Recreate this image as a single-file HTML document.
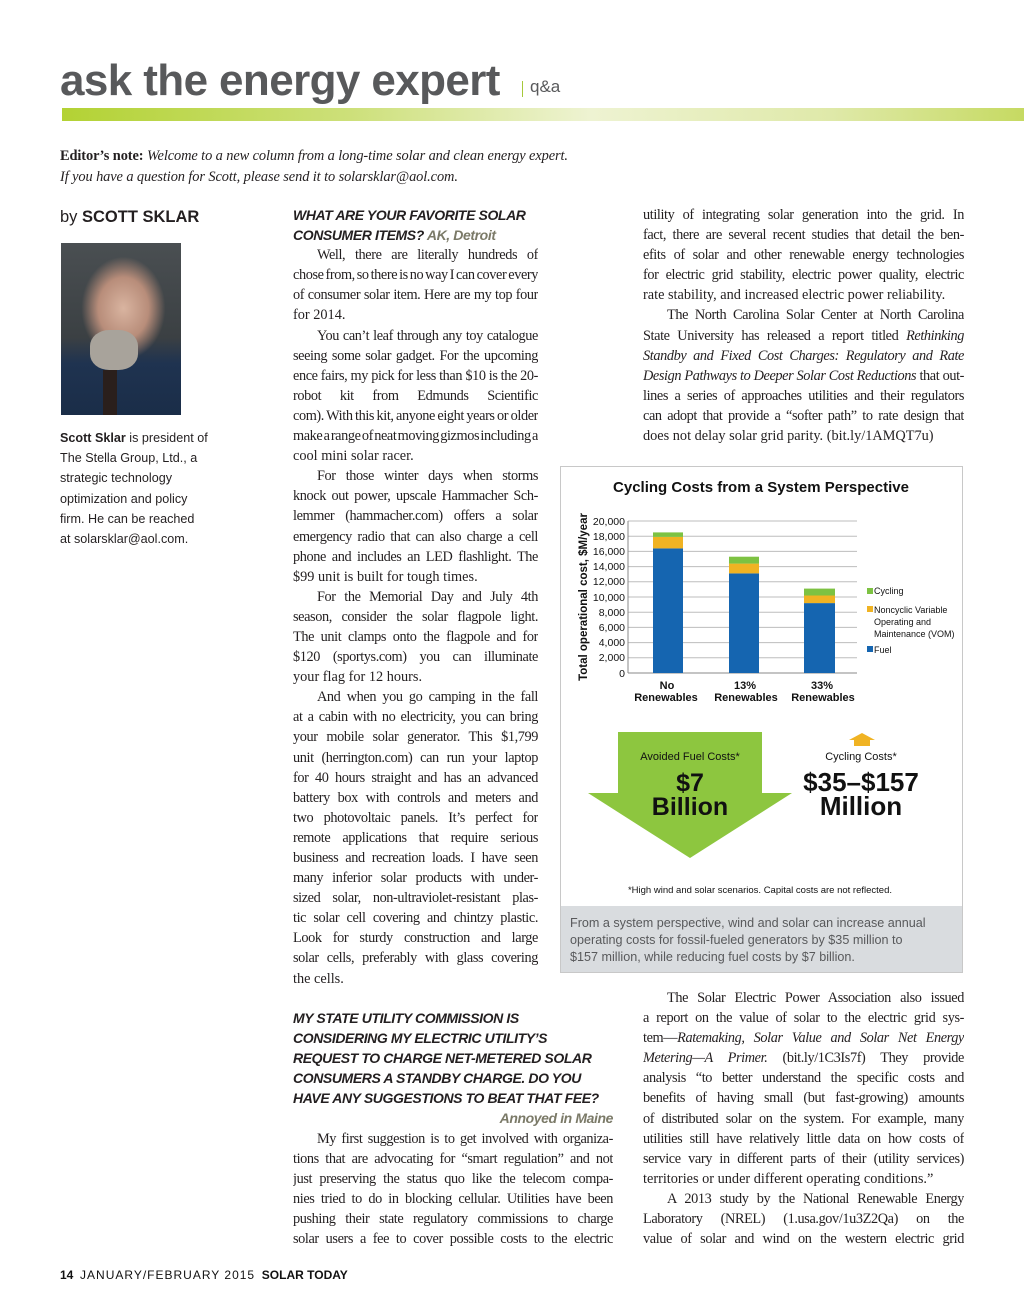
<!DOCTYPE html>
<html><head><meta charset="utf-8">
<style>
*{margin:0;padding:0;box-sizing:border-box}
body{width:1024px;height:1310px;background:#fff;position:relative;overflow:hidden;font-family:"Liberation Serif",serif;color:#231f20}
.a{position:absolute}
.col{position:absolute;font-size:14.3px;line-height:20.1px}
.col div{white-space:nowrap;overflow:hidden;height:20.1px}
.j{text-align:justify;text-align-last:justify;white-space:normal!important;word-spacing:-2px;letter-spacing:-0.4px}
.i{padding-left:24px}
.h{font-family:"Liberation Sans",sans-serif;font-weight:bold;font-style:italic;font-size:14px;color:#231f20;letter-spacing:-0.4px;overflow:visible!important}
.g{color:#7b7a68}
.cap{font-family:"Liberation Sans",sans-serif;font-size:12.6px;line-height:20.2px;color:#231f20}
.s{font-family:"Liberation Sans",sans-serif}
</style></head><body>

<div class="a s" style="left:60px;top:53px;font-size:44px;font-weight:bold;color:#58595b;letter-spacing:-0.6px;line-height:56px">ask the energy expert</div>
<div class="a" style="left:522px;top:81px;width:1px;height:16px;background:#a6c83a"></div>
<div class="a s" style="left:530px;top:77px;font-size:17px;color:#58595b">q&amp;a</div>
<div class="a" style="left:62px;top:108px;width:962px;height:13px;background:linear-gradient(90deg,#b3d234 0%,#cde07a 30%,#eef3d2 55%,#dfe9a9 80%,#c6da62 100%)"></div>

<div class="a" style="left:60px;top:146px;font-size:14.4px;line-height:20.5px;letter-spacing:-0.1px">
<b>Editor’s note:</b> <i>Welcome to a new column from a long-time solar and clean energy expert.</i><br>
<i>If you have a question for Scott, please send it to solarsklar@aol.com.</i></div>

<div class="a s" style="left:60px;top:208px;font-size:16.5px">by <b>SCOTT SKLAR</b></div>
<div class="a" style="left:61px;top:243px;width:120px;height:172px;background:radial-gradient(ellipse 35% 30% at 52% 38%,#d9b4a0 0%,#b88d7a 60%,transparent 100%),linear-gradient(180deg,#4a4f52 0%,#3b4043 55%,#1f3350 70%,#1a2d48 100%)"></div>
<div class="a" style="left:90px;top:330px;width:48px;height:40px;border-radius:40%;background:#a8a39b"></div>
<div class="a" style="left:103px;top:370px;width:14px;height:45px;background:#2a1f1c"></div>
<div class="a cap" style="left:60px;top:428px">
<div><b>Scott Sklar</b> is president of</div>
<div>The Stella Group, Ltd., a</div>
<div>strategic technology</div>
<div>optimization and policy</div>
<div>firm. He can be reached</div>
<div>at solarsklar@aol.com.</div></div>

<div class="col" style="left:293px;top:205px;width:245px">
<div class="h">WHAT ARE YOUR FAVORITE SOLAR</div>
<div class="h">CONSUMER ITEMS? <span class="g">AK, Detroit</span></div>
<div class="j i">Well, there are literally hundreds of products to</div>
<div class="j">chose from, so there is no way I can cover every class</div>
<div class="j">of consumer solar item. Here are my top four picks</div>
<div>for 2014.</div>
<div class="j i">You can’t leaf through any toy catalogue without</div>
<div class="j">seeing some solar gadget. For the upcoming spring sci-</div>
<div class="j">ence fairs, my pick for less than $10 is the 20-piece solar</div>
<div class="j">robot kit from Edmunds Scientific (scientificsonline.</div>
<div class="j">com). With this kit, anyone eight years or older can</div>
<div class="j">make a range of neat moving gizmos including a very</div>
<div>cool mini solar racer.</div>
<div class="j i">For those winter days when storms</div>
<div class="j">knock out power, upscale Hammacher Sch-</div>
<div class="j">lemmer (hammacher.com) offers a solar</div>
<div class="j">emergency radio that can also charge a cell</div>
<div class="j">phone and includes an LED flashlight. The</div>
<div>$99 unit is built for tough times.</div>
<div class="j i">For the Memorial Day and July 4th</div>
<div class="j">season, consider the solar flagpole light.</div>
<div class="j">The unit clamps onto the flagpole and for</div>
<div class="j">$120 (sportys.com) you can illuminate</div>
<div>your flag for 12 hours.</div>
<div class="j i">And when you go camping in the fall</div>
<div class="j">at a cabin with no electricity, you can bring</div>
<div class="j">your mobile solar generator. This $1,799</div>
<div class="j">unit (herrington.com) can run your laptop</div>
<div class="j">for 40 hours straight and has an advanced</div>
<div class="j">battery box with controls and meters and</div>
<div class="j">two photovoltaic panels. It’s perfect for</div>
<div class="j">remote applications that require serious</div>
<div class="j">business and recreation loads. I have seen</div>
<div class="j">many inferior solar products with under-</div>
<div class="j">sized solar, non-ultraviolet-resistant plas-</div>
<div class="j">tic solar cell covering and chintzy plastic.</div>
<div class="j">Look for sturdy construction and large</div>
<div class="j">solar cells, preferably with glass covering</div>
<div>the cells.</div>
</div>

<div class="col" style="left:293px;top:1008px;width:320px">
<div class="h">MY STATE UTILITY COMMISSION IS</div>
<div class="h">CONSIDERING MY ELECTRIC UTILITY’S</div>
<div class="h">REQUEST TO CHARGE NET-METERED SOLAR</div>
<div class="h">CONSUMERS A STANDBY CHARGE. DO YOU</div>
<div class="h">HAVE ANY SUGGESTIONS TO BEAT THAT FEE?</div>
<div class="h g" style="text-align:right">Annoyed in Maine</div>
<div class="j i">My first suggestion is to get involved with organiza-</div>
<div class="j">tions that are advocating for “smart regulation” and not</div>
<div class="j">just preserving the status quo like the telecom compa-</div>
<div class="j">nies tried to do in blocking cellular. Utilities have been</div>
<div class="j">pushing their state regulatory commissions to charge</div>
<div class="j">solar users a fee to cover possible costs to the electric</div>
</div>

<div class="col" style="left:643px;top:205px;width:321px">
<div class="j">utility of integrating solar generation into the grid. In</div>
<div class="j">fact, there are several recent studies that detail the ben-</div>
<div class="j">efits of solar and other renewable energy technologies</div>
<div class="j">for electric grid stability, electric power quality, electric</div>
<div>rate stability, and increased electric power reliability.</div>
<div class="j i">The North Carolina Solar Center at North Carolina</div>
<div class="j">State University has released a report titled <i>Rethinking</i></div>
<div class="j"><i>Standby and Fixed Cost Charges: Regulatory and Rate</i></div>
<div class="j"><i>Design Pathways to Deeper Solar Cost Reductions</i> that out-</div>
<div class="j">lines a series of approaches utilities and their regulators</div>
<div class="j">can adopt that provide a “softer path” to rate design that</div>
<div>does not delay solar grid parity. (bit.ly/1AMQT7u)</div>
</div>

<div class="col" style="left:643px;top:988px;width:321px">
<div class="j i">The Solar Electric Power Association also issued</div>
<div class="j">a report on the value of solar to the electric grid sys-</div>
<div class="j">tem—<i>Ratemaking, Solar Value and Solar Net Energy</i></div>
<div class="j"><i>Metering—A Primer.</i> (bit.ly/1C3Is7f) They provide</div>
<div class="j">analysis “to better understand the specific costs and</div>
<div class="j">benefits of having small (but fast-growing) amounts</div>
<div class="j">of distributed solar on the system. For example, many</div>
<div class="j">utilities still have relatively little data on how costs of</div>
<div class="j">service vary in different parts of their (utility services)</div>
<div>territories or under different operating conditions.”</div>
<div class="j i">A 2013 study by the National Renewable Energy</div>
<div class="j">Laboratory (NREL) (1.usa.gov/1u3Z2Qa) on the</div>
<div class="j">value of solar and wind on the western electric grid</div>
</div>

<!-- chart box -->
<div class="a" style="left:560px;top:466px;width:403px;height:507px;border:1px solid #c8c8c8"></div>
<div class="a" style="left:561px;top:906px;width:401px;height:66px;background:#d9dcdf"></div>
<svg class="a" style="left:0;top:0" width="1024" height="1310" font-family="Liberation Sans, sans-serif">
<text x="761" y="492" text-anchor="middle" font-size="15" font-weight="bold" fill="#111">Cycling Costs from a System Perspective</text>
<g stroke="#bdbdbd" stroke-width="1">
<line x1="628" x2="857" y1="521" y2="521"/><line x1="628" x2="857" y1="536.2" y2="536.2"/><line x1="628" x2="857" y1="551.4" y2="551.4"/><line x1="628" x2="857" y1="566.6" y2="566.6"/><line x1="628" x2="857" y1="581.8" y2="581.8"/><line x1="628" x2="857" y1="597" y2="597"/><line x1="628" x2="857" y1="612.2" y2="612.2"/><line x1="628" x2="857" y1="627.4" y2="627.4"/><line x1="628" x2="857" y1="642.6" y2="642.6"/><line x1="628" x2="857" y1="657.8" y2="657.8"/>
</g>
<line x1="628" x2="857" y1="673" y2="673" stroke="#888"/>
<line x1="628" x2="628" y1="521" y2="673" stroke="#888"/>
<g font-size="10.5" fill="#111" text-anchor="end">
<text x="625" y="525">20,000</text><text x="625" y="540">18,000</text><text x="625" y="555">16,000</text><text x="625" y="570">14,000</text><text x="625" y="585">12,000</text><text x="625" y="601">10,000</text><text x="625" y="616">8,000</text><text x="625" y="631">6,000</text><text x="625" y="646">4,000</text><text x="625" y="661">2,000</text><text x="625" y="677">0</text>
</g>
<text transform="translate(587,597) rotate(-90)" text-anchor="middle" font-size="11.5" font-weight="bold" fill="#111">Total operational cost, $M/year</text>
<rect x="653" y="548.4" width="30" height="124.6" fill="#1565b0"/>
<rect x="653" y="536.9" width="30" height="11.5" fill="#f0b323"/>
<rect x="653" y="532.4" width="30" height="4.5" fill="#7dc242"/>
<rect x="729" y="573.4" width="30" height="99.6" fill="#1565b0"/>
<rect x="729" y="563.6" width="30" height="9.8" fill="#f0b323"/>
<rect x="729" y="556.7" width="30" height="6.9" fill="#7dc242"/>
<rect x="804" y="603.1" width="31" height="69.9" fill="#1565b0"/>
<rect x="804" y="595.5" width="31" height="7.6" fill="#f0b323"/>
<rect x="804" y="588.6" width="31" height="6.9" fill="#7dc242"/>
<g font-size="11" font-weight="bold" fill="#111" text-anchor="middle">
<text x="667" y="689">No</text><text x="666" y="701">Renewables</text>
<text x="745" y="689">13%</text><text x="746" y="701">Renewables</text>
<text x="822" y="689">33%</text><text x="823" y="701">Renewables</text>
</g>
<g font-size="9" fill="#111">
<rect x="867" y="588" width="6" height="6" fill="#7dc242"/><text x="874" y="594">Cycling</text>
<rect x="867" y="606" width="6" height="6" fill="#f0b323"/><text x="874" y="613">Noncyclic Variable</text><text x="874" y="625">Operating and</text><text x="874" y="637">Maintenance (VOM)</text>
<rect x="867" y="646" width="6" height="6" fill="#1565b0"/><text x="874" y="653">Fuel</text>
</g>
<polygon points="618,732 762,732 762,793 792,793 690,858 588,793 618,793" fill="#8dc63f"/>
<text x="690" y="760" text-anchor="middle" font-size="11" fill="#111">Avoided Fuel Costs*</text>
<text x="690" y="791" text-anchor="middle" font-size="25" font-weight="bold" fill="#111">$7</text>
<text x="690" y="815" text-anchor="middle" font-size="25" font-weight="bold" fill="#111">Billion</text>
<polygon points="862,733 875,740 870,740 870,746 854,746 854,740 849,740" fill="#f0b323"/>
<text x="861" y="760" text-anchor="middle" font-size="11" fill="#111">Cycling Costs*</text>
<text x="861" y="791" text-anchor="middle" font-size="26" font-weight="bold" fill="#111">$35–$157</text>
<text x="861" y="815" text-anchor="middle" font-size="26" font-weight="bold" fill="#111">Million</text>
<text x="760" y="893" text-anchor="middle" font-size="9.5" fill="#111">*High wind and solar scenarios. Capital costs are not reflected.</text>
<g font-size="12.6" fill="#58595b">
<text x="570" y="927">From a system perspective, wind and solar can increase annual</text>
<text x="570" y="944">operating costs for fossil-fueled generators by $35 million to</text>
<text x="570" y="961">$157 million, while reducing fuel costs by $7 billion.</text>
</g>
</svg>

<div class="a s" style="left:60px;top:1268px;font-size:12px;color:#111;white-space:nowrap"><b>14</b>&nbsp;&nbsp;<span style="letter-spacing:1px">JANUARY/FEBRUARY 2015</span>&nbsp;&nbsp;<b>SOLAR TODAY</b></div>
</body></html>
